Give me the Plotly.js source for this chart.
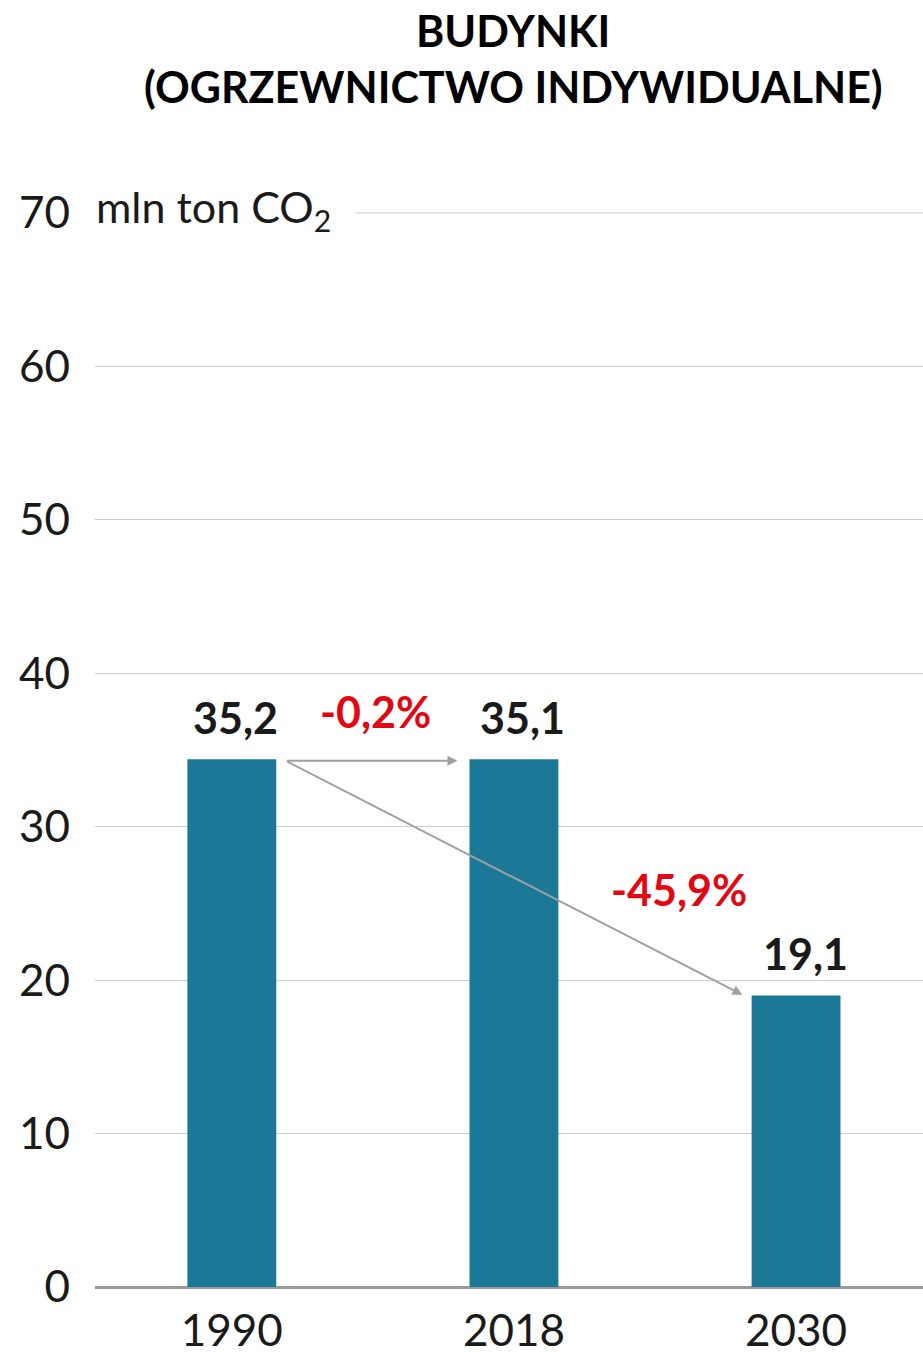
<!DOCTYPE html>
<html><head><meta charset="utf-8">
<script src="https://cdn.plot.ly/plotly-3.0.1.min.js"></script>
<style>html,body{margin:0;padding:0;background:#fff}#chart{width:923px;height:1352px}</style>
</head><body><div id="chart"></div>
<script>
const years = ['1990', '2018', '2030'];
const values = [34.4, 34.4, 19.0];
const valueLabels = ['35,2', '35,1', '19,1'];
const changeLabels = ['-0,2%', '-45,9%'];
const yTicks = [0, 10, 20, 30, 40, 50, 60, 70];
const unitLabel = 'mln ton CO<sub>2</sub>';
const titleLines = ['BUDYNKI', '(OGRZEWNICTWO INDYWIDUALNE)'];

const FONT = 'Lato, "Open Sans", sans-serif';
const xi = years.map((_, i) => i);
const yMax = yTicks[yTicks.length - 1];

const trace = {
  type: 'bar', x: xi, y: values, width: 0.315,
  marker: {color: '#1b7896'}, hoverinfo: 'skip'
};

const annotations = [];
titleLines.forEach((t, i) => {
  annotations.push({x: 0.505, y: 1, xref: 'paper', yref: 'paper', text: '<b>' + t + '</b>', showarrow: false,
    xanchor: 'center', yanchor: 'middle', yshift: i === 0 ? 182 : 126,
    font: {family: FONT, size: 43, color: '#000000'}});
});
values.forEach((v, i) => {
  annotations.push({x: xi[i], y: v, xref: 'x', yref: 'y', text: '<b>' + valueLabels[i] + '</b>',
    showarrow: false, yanchor: 'bottom', yshift: 14, xshift: i === 0 ? 4 : 9,
    font: {family: FONT, size: 43, color: '#1a1a1a'}});
});
// arrows
annotations.push({x: 0.80, y: values[0] - 0.1, ax: 0.19, ay: values[0] - 0.1, xref: 'x', yref: 'y', axref: 'x', ayref: 'y',
  showarrow: true, arrowhead: 2, arrowsize: 1, arrowwidth: 2, arrowcolor: '#a0a0a0', text: '', standoff: 0});
annotations.push({x: 1.81, y: values[2] + 0.04, ax: 0.19, ay: values[0] - 0.1, xref: 'x', yref: 'y', axref: 'x', ayref: 'y',
  showarrow: true, arrowhead: 2, arrowsize: 1, arrowwidth: 2, arrowcolor: '#a0a0a0', text: '', standoff: 0});
annotations.push({x: 0.51, y: 37.5, xref: 'x', yref: 'y', text: '<b>' + changeLabels[0] + '</b>', showarrow: false,
  font: {family: FONT, size: 43, color: '#e30613'}});
annotations.push({x: 1.585, y: 25.9, xref: 'x', yref: 'y', text: '<b>' + changeLabels[1] + '</b>', showarrow: false,
  font: {family: FONT, size: 43, color: '#e30613'}});
annotations.push({x: 0, y: yMax, xref: 'paper', yref: 'y', text: unitLabel + '&nbsp;&nbsp;', showarrow: false,
  xanchor: 'left', yanchor: 'middle', bgcolor: '#ffffff', borderpad: 2, xshift: -2, yshift: 3,
  font: {family: FONT, size: 43, color: '#1a1a1a'}});

const layout = {
  width: 923, height: 1352,
  margin: {l: 95, r: 0, t: 212, b: 65},
  paper_bgcolor: '#ffffff', plot_bgcolor: '#ffffff',
  showlegend: false,
  font: {family: FONT, color: '#1a1a1a'},
  xaxis: {range: [-0.485, 2.45], tickvals: xi, ticktext: years, showgrid: false, zeroline: false,
    showline: false, ticks: '', ticklabelstandoff: 14,
    tickfont: {family: FONT, size: 44, color: '#1a1a1a'}, fixedrange: true},
  yaxis: {range: [0, 70.06], tickvals: yTicks, ticktext: yTicks.map(String), showgrid: true,
    gridcolor: '#cccccc', gridwidth: 1, zeroline: true, zerolinecolor: '#999999', zerolinewidth: 3,
    showline: false, ticks: '', ticklabelstandoff: 24,
    tickfont: {family: FONT, size: 44, color: '#1a1a1a'}, fixedrange: true},
  shapes: [{type: 'line', xref: 'paper', yref: 'y', x0: 0, x1: 1, y0: yMax, y1: yMax,
    line: {color: '#cccccc', width: 1}, layer: 'below'}],
  annotations: annotations
};

Plotly.newPlot('chart', [trace], layout, {displayModeBar: false, staticPlot: true});
</script>
</body></html>
